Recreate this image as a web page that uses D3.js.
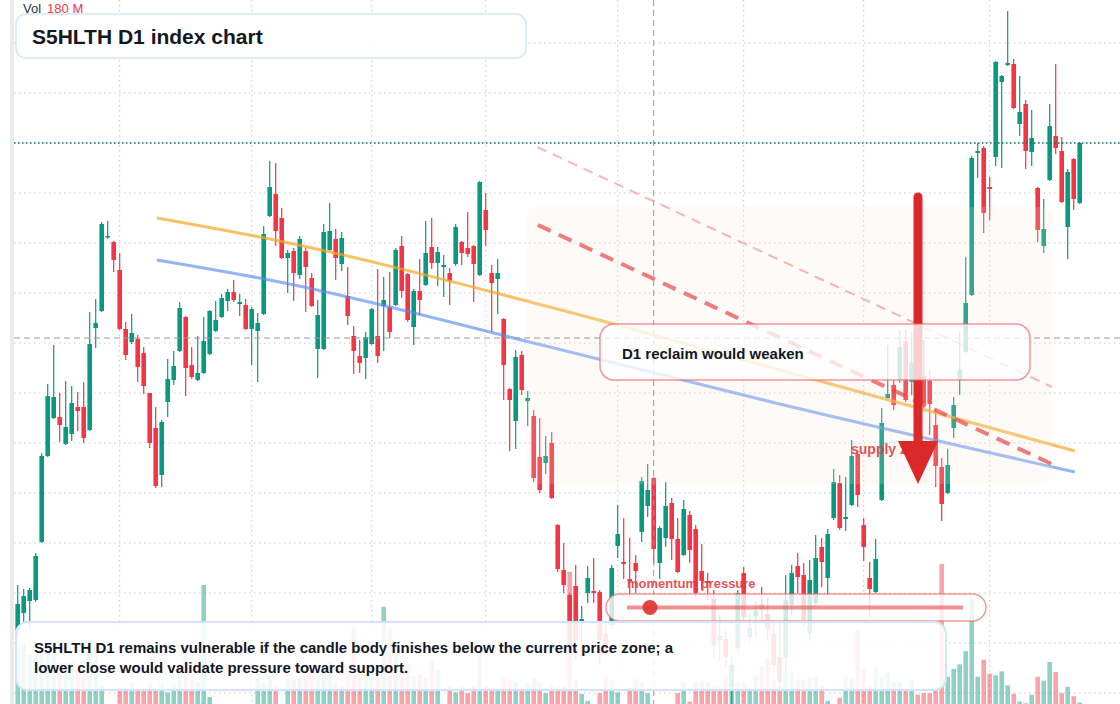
<!DOCTYPE html>
<html>
<head>
<meta charset="utf-8">
<script src="https://cdn.jsdelivr.net/npm/d3@7"></script>
<style>
  body { margin: 0; background: #fff; overflow: hidden; }
  svg { display: block; font-family: "Liberation Sans", Arial, sans-serif; }
</style>
</head>
<body>
<script>
// daily candles, oldest first
const opens = [1556.5,1565,1571,1571.5,1600.5,1643.5,1662.5,1663,1649.5,1654.5,1668,1668,1656.5,1707.5,1716,1753,1750.5,1736.5,1707,1700.5,
  1702,1695,1675,1657.5,1634,1670.5,1681.5,1696,1713,1689,1681.5,1685,1694.5,1706,1713,1721,1725.5,1719.5,1719,1707,
  1706,1714.5,1763.5,1774.5,1762.5,1742.5,1746,1734,1746,1732.5,1697,1697,1746.5,1752,1739.5,1723.5,1703.5,1693.5,1692.5,1699.5,
  1703.5,1718.5,1718,1719,1748.5,1734.5,1708,1726,1729,1748,1740,1738,1735,1739.5,1750.5,1747.5,1748.5,1734,1766.5,1735,
  1732,1712,1677,1661,1694,1671,1663.5,1643,1640,1650,1609,1586.5,1574,1578.5,1561,1575,1576,1575.5,1554.5,1559,
  1598.5,1590.5,1582,1590,1605.5,1618.5,1632.5,1590,1602.5,1620,1602,1594,1614,1607,1586,1581,1572.5,1553.5,1552,1528,
  1547.5,1585,1553,1563.5,1569.5,1564.5,1554.5,1543,1542.5,1569,1588.5,1584,1555,1570,1598,1582.5,1612.5,1630,1612,1619,
  1644.5,1609,1582.5,1575.5,1621.5,1672.5,1679,1681.5,1701,1680.5,1685.5,1683.5,1681,1659,1638,1625,1657.5,1681.5,1695.5,1724,
  1795,1797.5,1778,1793,1830.5,1839,1839.5,1809.5,1819.5,1795.5,1777.5,1748.5,1781.5,1803.5,1796,1758,1792,1770];
const highs = [1579,1577,1577.5,1595,1645,1679.5,1699,1675,1681,1678.5,1675.5,1680.5,1715.5,1722,1760.5,1761,1751,1745,1710.5,1714.5,
  1704,1698,1675,1668,1661.5,1692,1696,1720.5,1713.5,1698,1703.5,1713,1716.5,1721,1724.5,1727,1731.5,1724.5,1722,1718,
  1715,1758.5,1791,1790,1767.5,1746.5,1747.5,1753.5,1747.5,1735,1721.5,1759.5,1770,1757,1755.5,1738,1708.5,1701.5,1705.5,1717.5,
  1737,1733,1735.5,1747.5,1753.5,1735,1727,1742,1761,1762.5,1748,1744,1737.5,1759.5,1751,1765.5,1749,1781,1775,1739,
  1742,1712.5,1677.5,1696.5,1696,1676,1666.5,1662.5,1653.5,1655.5,1609.5,1600,1575,1589,1568.5,1588.5,1592.5,1576.5,1559,1589,
  1619,1612.5,1602.5,1594,1633,1639.5,1633,1608.5,1630.5,1622.5,1612.5,1621.5,1616,1609,1599.5,1585,1576.5,1564,1556.5,1544,
  1576.5,1588,1564.5,1570.5,1578,1573,1560.5,1560,1584,1589,1595,1590,1591.5,1604,1602.5,1607,1637,1634,1633,1651.5,
  1646,1612.5,1590.5,1602,1667.5,1699,1681.5,1706.5,1706.5,1705.5,1706.5,1701.5,1686.5,1666.5,1642.5,1647,1673,1705.5,1743,1793.5,
  1800,1798.5,1783,1841,1834,1866,1842,1833.5,1821.5,1816.5,1778,1772,1819.5,1839.5,1803,1787,1792.5,1800.5];
const lows = [1553.5,1560,1556.5,1570.5,1600,1643,1662,1650.5,1649,1651,1656,1650,1656,1697.5,1715.5,1752,1735.5,1706.5,1691.5,1699.5,
  1680.5,1674.5,1647.5,1627.5,1628,1663,1679,1695.5,1673.5,1682,1681,1684.5,1694,1705.5,1712.5,1716,1720.5,1713.5,1706.5,1689,
  1680.5,1714,1763,1748.5,1742,1725,1721,1732,1715.5,1718,1682.5,1696.5,1746,1731.5,1736,1709,1684.5,1685,1682,1699,
  1690,1696,1702.5,1718.5,1722.5,1710.5,1699,1714,1728.5,1737,1728.5,1723,1719,1738.5,1739,1743,1720.5,1733.5,1748.5,1705.5,
  1714.5,1671.5,1646,1647,1674,1658.5,1630.5,1625,1634.5,1622,1585.5,1575,1545.5,1541.5,1541.5,1570,1570,1539,1544,1557.5,
  1592.5,1582,1573,1575,1600.5,1613,1590,1582,1598,1591.5,1585,1593.5,1590,1572.5,1576.5,1571.5,1542.5,1541.5,1538,1519.5,
  1545.5,1560.5,1550,1553,1560,1551.5,1535,1528,1535.5,1564,1575,1558.5,1551.5,1568.5,1578,1573.5,1611.5,1606.5,1606,1618.5,
  1618,1591,1563,1575,1621,1672,1666.5,1680,1670.5,1674,1662.5,1667.5,1654,1628,1611,1624.5,1652.5,1674,1695,1723.5,
  1782.5,1755,1761.5,1788.5,1787.5,1838.5,1817,1803.5,1787,1788.5,1750.5,1745,1781,1794.5,1770,1742,1766.5,1769.5];
const closes = [1569.5,1573.5,1576.5,1593.5,1643.5,1673.5,1673,1659,1658,1670,1666,1652.5,1699.5,1710,1759.5,1753.5,1741.5,1707,1694,1705,
  1688,1678.5,1650,1628.5,1660.5,1682,1688.5,1717.5,1687.5,1683,1685,1701,1716,1711.5,1722.5,1725.5,1721.5,1720.5,1707,1717,
  1710,1754.5,1778,1756,1742.5,1745,1735,1752,1738,1718.5,1714,1755.5,1756,1742.5,1752.5,1713.5,1696,1690,1703,1717,
  1693.5,1721.5,1705.5,1746.5,1726,1711.5,1726,1721.5,1745,1740,1745.5,1739,1731,1758,1745,1744.5,1739.5,1780.5,1756.5,1730,
  1735,1689,1671.5,1693,1676.5,1672.5,1632.5,1626.5,1643.5,1622.5,1587,1579,1547.5,1551.5,1562,1582.5,1575,1551.5,1546.5,1587.5,
  1604.5,1589.5,1581,1586,1631,1626.5,1597,1607.5,1618.5,1602,1585.5,1617,1596.5,1575,1581,1580,1549,1551.5,1543,1539,
  1575,1563,1557.5,1566,1567,1557,1539,1530.5,1571.5,1585,1583,1561.5,1581.5,1592.5,1590.5,1604.5,1630.5,1607.5,1613,1643.5,
  1624,1598,1577,1592,1660,1674.5,1669,1698,1671.5,1690,1667.5,1670,1669.5,1638.5,1619.5,1639,1669,1686.5,1720,1792.5,
  1796,1765,1777,1840.5,1833.5,1840,1817.5,1815.5,1796,1802.5,1756.5,1757,1808.5,1797.5,1770.5,1785.5,1772,1800];
// volume, millions
const volumes = [73,78,63,66,63,72,66,53,53,54,44,35,80,82,24,0,0,21,21,27,
  21,21,26,17,27,15,26,39,62,31,28,153,9,0,0,0,0,0,0,0,
  34,28,36,23,0,32,31,35,37,44,39,44,54,27,23,40,98,51,39,51,
  40,125,98,64,46,51,36,39,33,58,44,0,22,15,22,14,22,68,22,18,
  18,33,31,28,21,28,33,27,14,24,22,23,170,31,13,4,0,14,35,31,
  15,0,21,32,28,14,0,0,0,0,14,28,3,28,28,28,22,22,35,49,
  27,27,19,37,48,59,31,22,41,40,31,31,35,35,24,4,0,8,35,33,
  95,44,22,46,35,40,28,28,21,31,12,14,14,21,180,35,45,51,68,135,
  35,57,39,37,42,24,13,3,1,12,35,30,54,41,14,22,10,2];

const monthStarts = [17, 39, 59, 78, 100, 121, 141, 162];
const priceTicks = d3.range(1525, 1851, 25);
const lastPrice = 1800;
const crossIndex = 106, crossPrice = 1702.5;

// drawn studies, [candle index, price]
const orangeTrend = [[23.2, 1762.5], [42, 1752], [88.7, 1718], [127, 1686.5], [176.2, 1646]];
const blueTrend = [[23.2, 1741.5], [42, 1731.5], [88.7, 1698], [127, 1669.5], [176.2, 1635.5]];
const pinkDash = [[86.6, 1798], [172.4, 1678]];
const redDash = [[86.7, 1759], [172.7, 1639]];
const supplyZone = { i0: 84.9, i1: 172.4, top: 1768, bottom: 1629.5 };
const arrowStudy = { i: 150.05, from: 1773, to: 1629.5 };

const W = 1120, H = 704;
const up = "#089981", down = "#f23645";

const candles = opens.map((o, i) => ({ i, o, h: highs[i], l: lows[i], c: closes[i], v: volumes[i] }));

const x = d3.scaleLinear().domain([0, 177]).range([17.7, 1079.7]);
const y = d3.scaleLinear().domain([1519.5, 1871.5]).range([H, 0]);
const vh = d3.scaleLinear().domain([0, 180]).range([0, 140]);

const svg = d3.select("body").append("svg").attr("width", W).attr("height", H);

svg.append("rect").attr("width", W).attr("height", H).attr("fill", "#fff");
svg.append("rect").attr("x", 10).attr("width", 4).attr("height", H).attr("fill", "#ebebeb");

// grid
svg.append("g").selectAll("line").data(priceTicks).join("line")
  .attr("x1", 14).attr("x2", W)
  .attr("y1", d => y(d)).attr("y2", d => y(d))
  .attr("stroke", "#c9c9c9").attr("stroke-dasharray", "1.5,3.5");
svg.append("g").selectAll("line").data(monthStarts).join("line")
  .attr("x1", d => x(d)).attr("x2", d => x(d))
  .attr("y1", 0).attr("y2", H)
  .attr("stroke", "#c9c9c9").attr("stroke-dasharray", "1.5,3.5");

// volume
svg.append("g").selectAll("rect").data(candles).join("rect")
  .attr("x", d => x(d.i) - 2.3).attr("width", 4.6)
  .attr("y", d => H - vh(d.v)).attr("height", d => vh(d.v))
  .attr("fill", d => d.c >= d.o ? up : down).attr("fill-opacity", 0.45);

// candles
const cg = svg.append("g");
cg.selectAll("line").data(candles).join("line")
  .attr("x1", d => x(d.i)).attr("x2", d => x(d.i))
  .attr("y1", d => y(d.h)).attr("y2", d => y(d.l))
  .attr("stroke", d => d.c >= d.o ? up : down).attr("stroke-width", 1.2);
cg.selectAll("rect").data(candles).join("rect")
  .attr("x", d => x(d.i) - 2.3).attr("width", 4.6)
  .attr("y", d => y(Math.max(d.o, d.c)))
  .attr("height", d => Math.max(1.5, Math.abs(y(d.o) - y(d.c))))
  .attr("fill", d => d.c >= d.o ? up : down);

// trend lines
const trend = d3.line().x(d => x(d[0])).y(d => y(d[1])).curve(d3.curveMonotoneX);
svg.append("path").attr("d", trend(orangeTrend)).attr("fill", "none")
  .attr("stroke", "#f5a623").attr("stroke-opacity", 0.7).attr("stroke-width", 3);
svg.append("path").attr("d", trend(blueTrend)).attr("fill", "none")
  .attr("stroke", "#5b8def").attr("stroke-opacity", 0.65).attr("stroke-width", 3);

// supply zone
svg.append("rect")
  .attr("x", x(supplyZone.i0)).attr("y", y(supplyZone.top))
  .attr("width", x(supplyZone.i1) - x(supplyZone.i0))
  .attr("height", y(supplyZone.bottom) - y(supplyZone.top))
  .attr("rx", 12).attr("fill", "#f6e3d6").attr("fill-opacity", 0.18);

const straight = d3.line().x(d => x(d[0])).y(d => y(d[1]));
svg.append("path").attr("d", straight(pinkDash)).attr("fill", "none")
  .attr("stroke", "#f07070").attr("stroke-opacity", 0.5).attr("stroke-width", 2)
  .attr("stroke-dasharray", "10,7");
svg.append("path").attr("d", straight(redDash)).attr("fill", "none")
  .attr("stroke", "#e64646").attr("stroke-opacity", 0.7).attr("stroke-width", 4)
  .attr("stroke-dasharray", "14,9");

// crosshair + last price
svg.append("line").attr("x1", x(crossIndex)).attr("x2", x(crossIndex)).attr("y1", 0).attr("y2", H)
  .attr("stroke", "#999").attr("stroke-dasharray", "6,4");
svg.append("line").attr("x1", 14).attr("x2", W).attr("y1", y(crossPrice)).attr("y2", y(crossPrice))
  .attr("stroke", "#999").attr("stroke-dasharray", "6,4");
svg.append("line").attr("x1", 14).attr("x2", W).attr("y1", y(lastPrice)).attr("y2", y(lastPrice))
  .attr("stroke", "#0b6e5f").attr("stroke-width", 1.4).attr("stroke-dasharray", "1.5,2.5");

// supply label + arrow
svg.append("text").attr("x", 851).attr("y", 454)
  .attr("font-size", 14).attr("font-weight", "bold").attr("fill", "#e03c3c").attr("fill-opacity", 0.9)
  .text("supply zone");
const ax = x(arrowStudy.i), headBase = y(arrowStudy.to) - 43;
svg.append("line").attr("x1", ax).attr("x2", ax).attr("y1", y(arrowStudy.from)).attr("y2", headBase + 4)
  .attr("stroke", "#dc2828").attr("stroke-width", 9).attr("stroke-linecap", "round");
svg.append("path")
  .attr("d", `M${ax - 20},${headBase}L${ax + 20},${headBase}L${ax},${y(arrowStudy.to)}Z`)
  .attr("fill", "#dc2828");

// callout
svg.append("rect").attr("x", 600).attr("y", 324).attr("width", 430).attr("height", 56).attr("rx", 14)
  .attr("fill", "#fff").attr("fill-opacity", 0.78)
  .attr("stroke", "#ec6a6a").attr("stroke-opacity", 0.7).attr("stroke-width", 1.5);
svg.append("text").attr("x", 622).attr("y", 359)
  .attr("font-size", 15).attr("font-weight", "bold").attr("fill", "#131722")
  .text("D1 reclaim would weaken");

// momentum gauge
svg.append("rect").attr("x", 606).attr("y", 594).attr("width", 380).attr("height", 27).attr("rx", 13.5)
  .attr("fill", "#fff").attr("fill-opacity", 0.8)
  .attr("stroke", "#ec6a6a").attr("stroke-opacity", 0.7).attr("stroke-width", 1.5);
svg.append("line").attr("x1", 627).attr("x2", 963).attr("y1", 607.5).attr("y2", 607.5)
  .attr("stroke", "#e64646").attr("stroke-opacity", 0.6).attr("stroke-width", 4);
svg.append("circle").attr("cx", 650).attr("cy", 607.5).attr("r", 7.5)
  .attr("fill", "#e03030").attr("fill-opacity", 0.9);
svg.append("text").attr("x", 627).attr("y", 588)
  .attr("font-size", 13).attr("font-weight", "bold").attr("fill", "#e03c3c").attr("fill-opacity", 0.9)
  .text("momentum pressure");

// note box
svg.append("rect").attr("x", 16).attr("y", 622).attr("width", 930).attr("height", 68).attr("rx", 12)
  .attr("fill", "#fff").attr("fill-opacity", 0.88)
  .attr("stroke", "#d5e3fa").attr("stroke-width", 2);
const note = svg.append("text").attr("font-size", 15).attr("font-weight", "bold").attr("fill", "#131722");
note.append("tspan").attr("x", 34).attr("y", 653)
  .text("S5HLTH D1 remains vulnerable if the candle body finishes below the current price zone; a");
note.append("tspan").attr("x", 34).attr("y", 673)
  .text("lower close would validate pressure toward support.");

// title
svg.append("rect").attr("x", 16).attr("y", 14).attr("width", 510).attr("height", 44).attr("rx", 10)
  .attr("fill", "#fff").attr("fill-opacity", 0.95)
  .attr("stroke", "#d5e3fa").attr("stroke-width", 1.5);
svg.append("text").attr("x", 32).attr("y", 44)
  .attr("font-size", 21).attr("font-weight", "bold").attr("fill", "#131722")
  .text("S5HLTH D1 index chart");

const vol = svg.append("text").attr("x", 23).attr("y", 13).attr("font-size", 13);
vol.append("tspan").attr("fill", "#333").text("Vol");
vol.append("tspan").attr("dx", 6).attr("fill", "#f23645").text("180 M");
</script>
</body>
</html>
